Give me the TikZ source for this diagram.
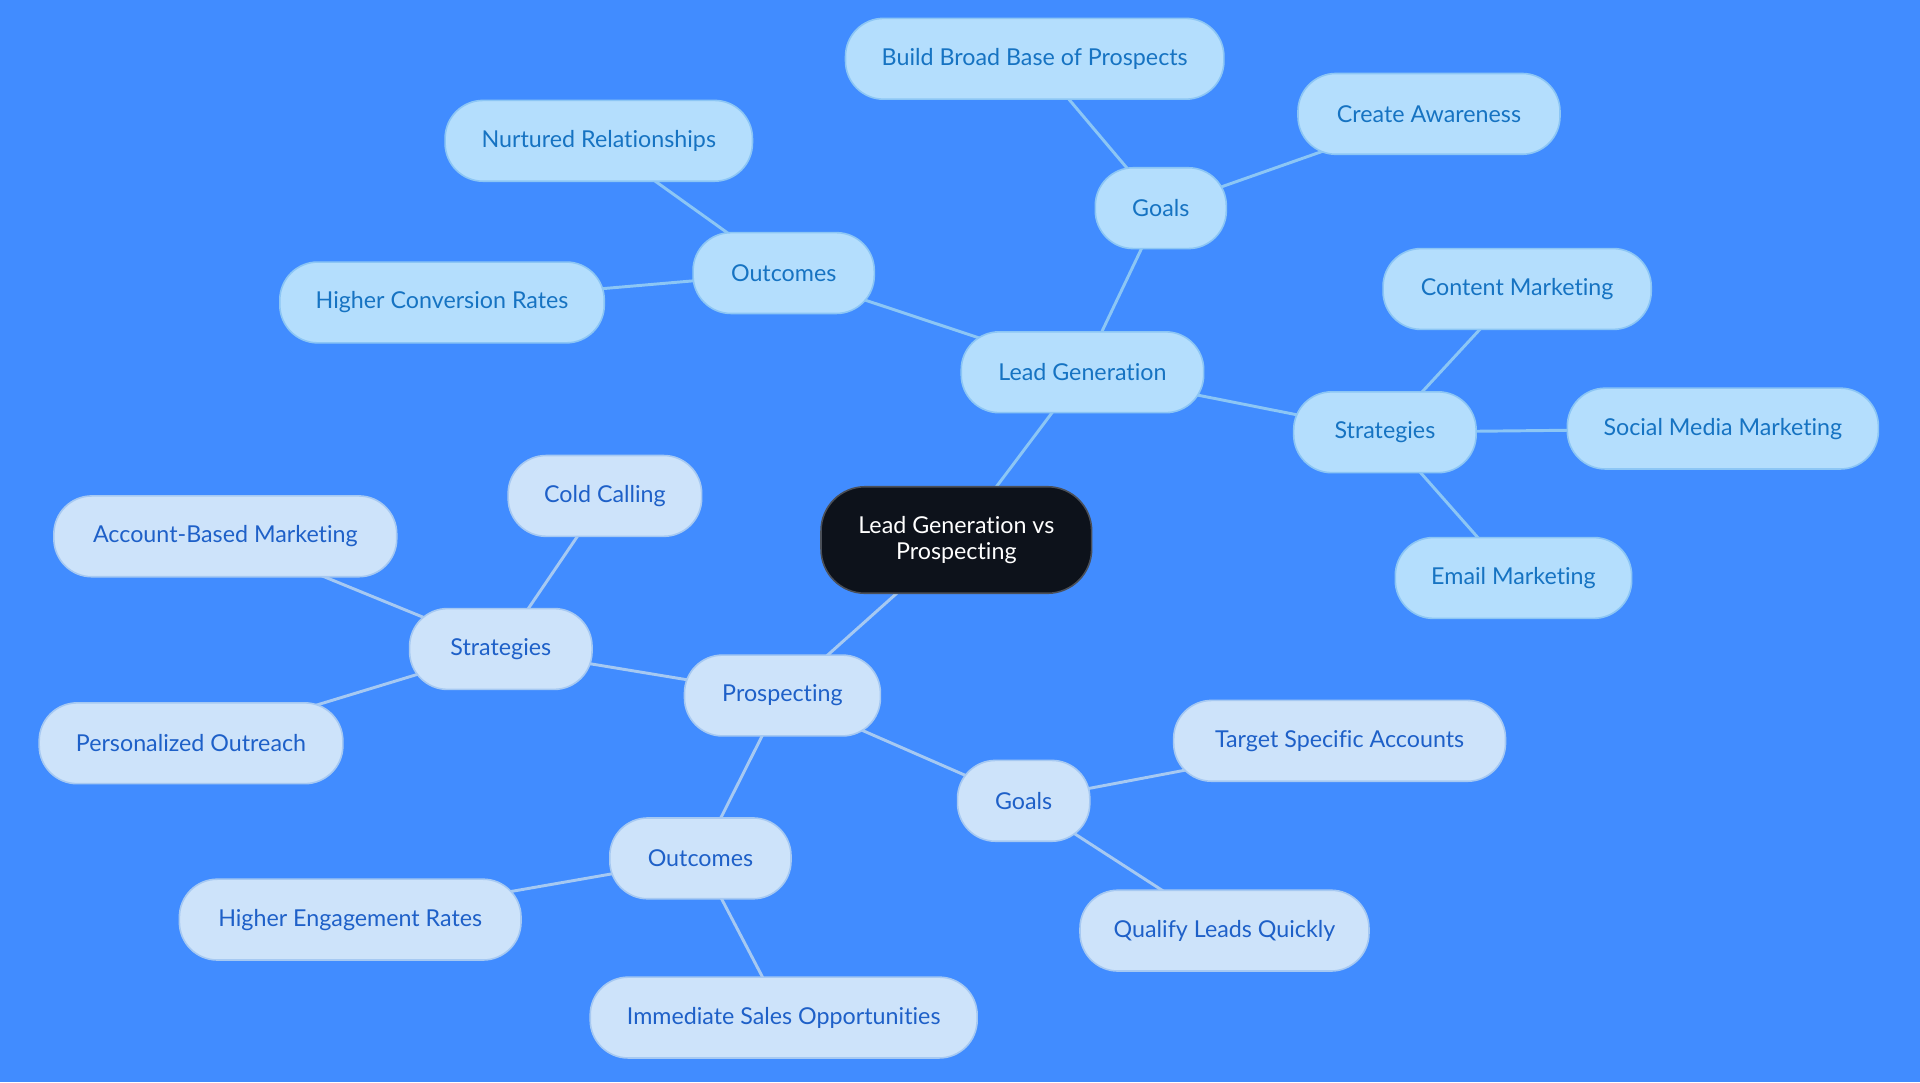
\documentclass[tikz,border=0pt]{standalone}
\usepackage{fontspec}
\setmainfont{Lato}[Ligatures={NoCommon,NoRare,NoDiscretionary}]
\usetikzlibrary{backgrounds}
\definecolor{bg}{HTML}{418CFF}
\definecolor{lgfill}{HTML}{B4DEFD}
\definecolor{lgdraw}{HTML}{8CC6F5}
\definecolor{lgtext}{HTML}{1673C2}
\definecolor{prfill}{HTML}{CDE3FA}
\definecolor{prdraw}{HTML}{A6C9F2}
\definecolor{prtext}{HTML}{1E60C8}
\definecolor{ctfill}{HTML}{0D121B}
\definecolor{ctdraw}{HTML}{4A4F58}
\tikzset{
  pill/.style={rectangle, rounded corners=31pt, minimum height=66pt, inner sep=0pt, line width=1.3pt, font=\fontsize{19}{22}\selectfont},
  lg/.style={pill, fill=lgfill, draw=lgdraw, text=lgtext},
  pr/.style={pill, fill=prfill, draw=prdraw, text=prtext},
  ct/.style={pill, fill=ctfill, draw=ctdraw, text=white, align=center, minimum height=87pt, rounded corners=36pt, font=\fontsize{19}{21}\selectfont},
  lgedge/.style={draw=lgdraw, line width=2.4pt},
  predge/.style={draw=prdraw, line width=2.4pt},
}
\begin{document}
\begin{tikzpicture}[x=1pt,y=-1pt]
\useasboundingbox (0,0) rectangle (1568,884);

\node[ct, minimum width=221pt] (c) at (781,441) {Lead Generation vs\\Prospecting};

\node[lg, minimum width=198pt] (lg) at (884,304) {Lead Generation};
\node[lg, minimum width=107pt] (lgg) at (948,170) {Goals};
\node[lg, minimum width=309pt] (bb) at (845,48) {Build Broad Base of Prospects};
\node[lg, minimum width=214pt] (ca) at (1167,93) {Create Awareness};
\node[lg, minimum width=148pt] (lgo) at (640,223) {Outcomes};
\node[lg, minimum width=251pt] (nr) at (489,115) {Nurtured Relationships};
\node[lg, minimum width=265pt] (hc) at (361,247) {Higher Conversion Rates};
\node[lg, minimum width=149pt] (lgs) at (1131,353) {Strategies};
\node[lg, minimum width=219pt] (cm) at (1239,236) {Content Marketing};
\node[lg, minimum width=254pt] (sm) at (1407,350) {Social Media Marketing};
\node[lg, minimum width=193pt] (em) at (1236,472) {Email Marketing};

\node[pr, minimum width=160pt] (pr) at (639,568) {Prospecting};
\node[pr, minimum width=149pt] (prs) at (409,530) {Strategies};
\node[pr, minimum width=158pt] (cc) at (494,405) {Cold Calling};
\node[pr, minimum width=280pt] (abm) at (184,438) {Account-Based Marketing};
\node[pr, minimum width=248pt] (po) at (156,607) {Personalized Outreach};
\node[pr, minimum width=108pt] (prg) at (836,654) {Goals};
\node[pr, minimum width=271pt] (tsa) at (1094,605) {Target Specific Accounts};
\node[pr, minimum width=236pt] (qlq) at (1000,760) {Qualify Leads Quickly};
\node[pr, minimum width=148pt] (pro) at (572,701) {Outcomes};
\node[pr, minimum width=279pt] (her) at (286,751) {Higher Engagement Rates};
\node[pr, minimum width=316pt] (iso) at (640,831) {Immediate Sales Opportunities};

\begin{scope}[on background layer]
\fill[bg] (0,0) rectangle (1568,884);
\draw[lgedge] (c.center) -- (lg.center);
\draw[lgedge] (lg.center) -- (lgg.center);
\draw[lgedge] (lg.center) -- (lgo.center);
\draw[lgedge] (lg.center) -- (lgs.center);
\draw[lgedge] (lgg.center) -- (bb.center);
\draw[lgedge] (lgg.center) -- (ca.center);
\draw[lgedge] (lgo.center) -- (nr.center);
\draw[lgedge] (lgo.center) -- (hc.center);
\draw[lgedge] (lgs.center) -- (cm.center);
\draw[lgedge] (lgs.center) -- (sm.center);
\draw[lgedge] (lgs.center) -- (em.center);
\draw[predge] (c.center) -- (pr.center);
\draw[predge] (pr.center) -- (prs.center);
\draw[predge] (pr.center) -- (prg.center);
\draw[predge] (pr.center) -- (pro.center);
\draw[predge] (prs.center) -- (cc.center);
\draw[predge] (prs.center) -- (abm.center);
\draw[predge] (prs.center) -- (po.center);
\draw[predge] (prg.center) -- (tsa.center);
\draw[predge] (prg.center) -- (qlq.center);
\draw[predge] (pro.center) -- (her.center);
\draw[predge] (pro.center) -- (iso.center);
\end{scope}
\end{tikzpicture}
\end{document}
